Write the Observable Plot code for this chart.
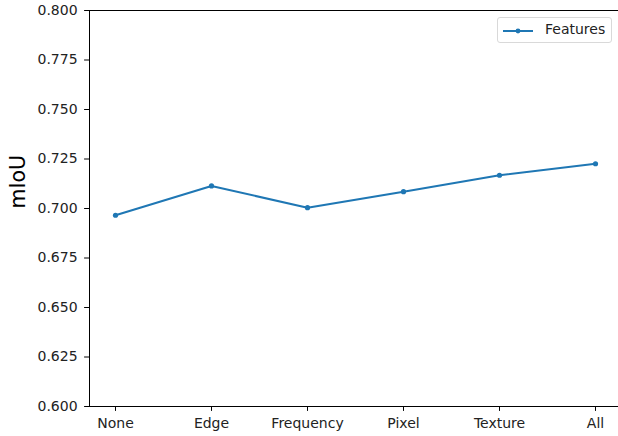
<!DOCTYPE html>
<html>
<head>
<meta charset="utf-8">
<script src="https://cdn.jsdelivr.net/npm/d3@7"></script>
<script src="https://cdn.jsdelivr.net/npm/@observablehq/plot@0.6"></script>
<style>
  html, body { margin: 0; padding: 0; background: #fff; }
  #wrap { position: relative; width: 618px; height: 436px; overflow: hidden; font-family: "DejaVu Sans", sans-serif; }
  #legend { position: absolute; left: 497px; top: 17px; width: 115px; height: 26px; border: 1px solid #d9d9d9; border-radius: 3px; background: rgba(255,255,255,0.8); box-sizing: border-box; }
  #legend svg { position: absolute; left: 4px; top: 7px; }
  #legend span { position: absolute; left: 47px; top: 3px; font-size: 14px; color: #222; }
</style>
</head>
<body>
<div id="wrap">
  <div id="chart"></div>
  <div id="legend">
    <svg width="34" height="12"><line x1="1" y1="6" x2="31" y2="6" stroke="#1f77b4" stroke-width="2"/><circle cx="16" cy="6" r="2.4" fill="#1f77b4"/></svg>
    <span>Features</span>
  </div>
</div>
<script>
const categories = ["None", "Edge", "Frequency", "Pixel", "Texture", "All"];
const miou = [0.6966, 0.7114, 0.7004, 0.7085, 0.7168, 0.7226];
const yTicks = [0.600, 0.625, 0.650, 0.675, 0.700, 0.725, 0.750, 0.775, 0.800];
const seriesName = "Features";

const data = categories.map((c, i) => ({category: c, value: miou[i], series: seriesName}));

const chart = Plot.plot({
  width: 618,
  height: 436,
  marginLeft: 89,
  marginRight: -3,
  marginTop: 10,
  marginBottom: 30,
  style: {fontFamily: "DejaVu Sans", fontSize: "14px", color: "#222", background: "#fff"},
  x: {type: "point", domain: categories, padding: 0.25, label: null},
  y: {domain: [0.6, 0.8], label: null},
  marks: [
    Plot.axisY({ticks: yTicks, tickFormat: d3.format(".3f"), tickSize: 4.9, tickPadding: 7, fontSize: 14, stroke: "#000", strokeOpacity: 1}),
    Plot.axisX({tickSize: 4.9, tickPadding: 6.5, fontSize: 14, stroke: "#000", strokeOpacity: 1}),
    Plot.frame({stroke: "#000", strokeWidth: 1}),
    Plot.line(data, {x: "category", y: "value", stroke: "#1f77b4", strokeWidth: 2.1}),
    Plot.dot(data, {x: "category", y: "value", fill: "#1f77b4", r: 2.6}),
    Plot.text(["mIoU"], {frameAnchor: "left", dx: -71, rotate: -90, fontSize: 20.5, fill: "#000"})
  ]
});
document.getElementById("chart").appendChild(chart);
</script>
</body>
</html>
